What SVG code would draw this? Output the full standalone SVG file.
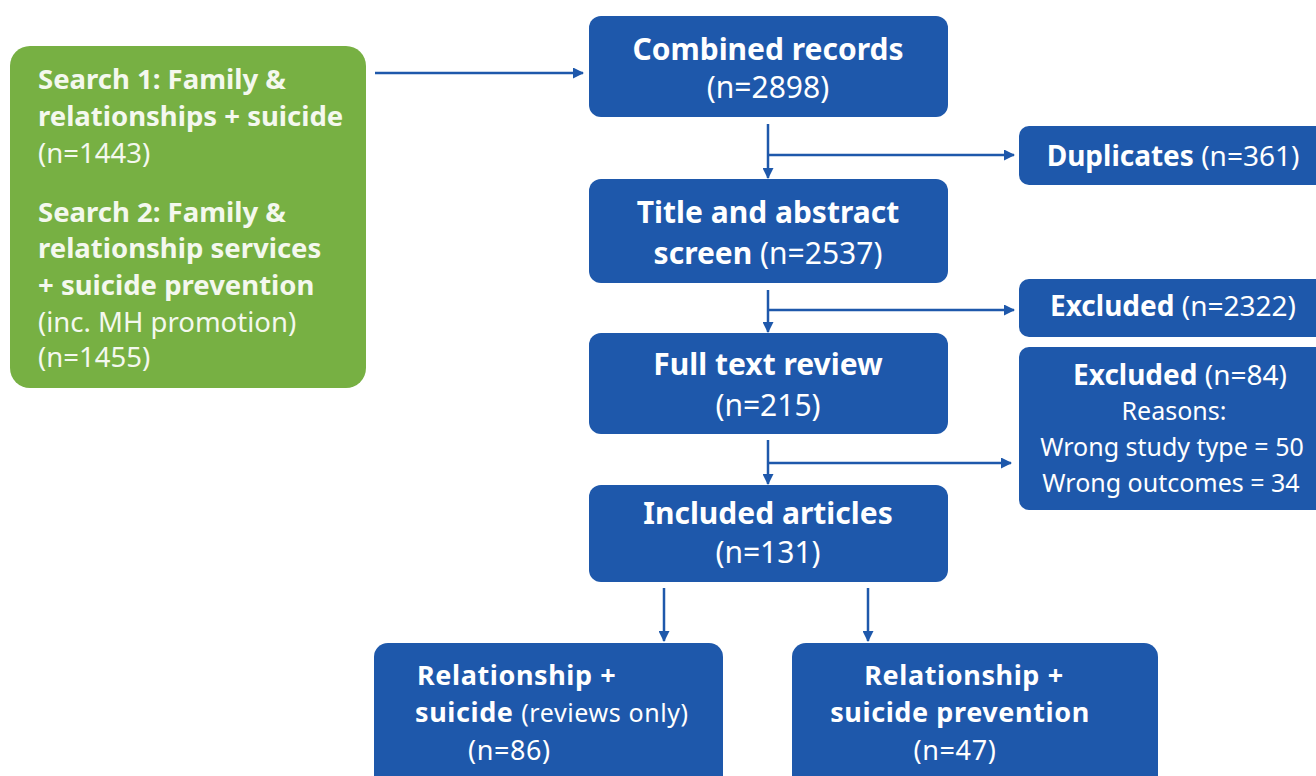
<svg xmlns="http://www.w3.org/2000/svg" width="1316" height="776" viewBox="0 0 1316 776">
<defs>
<style>
.box{fill:#1e58ab;}
.g{fill:#77b043;}
text{font-family:"Noto Sans","Open Sans",sans-serif;fill:#ffffff;}
.t{font-size:30px;text-anchor:middle;}
.b{font-weight:bold;}
.gt{font-size:27.5px;fill:#f4f8ee;}
.s{font-size:28px;text-anchor:middle;}
.r{font-size:25px;text-anchor:middle;}
.bt{font-size:27px;letter-spacing:0.6px;}
.c{stroke:#1e58ab;stroke-width:2.5;fill:none;}
</style>
<marker id="ah" markerWidth="11" markerHeight="11" refX="10" refY="5.5" orient="auto" markerUnits="userSpaceOnUse">
<path d="M0,0 L11,5.5 L0,11 Z" fill="#1e58ab"/>
</marker>
</defs>
<rect width="1316" height="776" fill="#ffffff"/>

<g id="connectors">
<line class="c" x1="375" y1="73" x2="583" y2="73" marker-end="url(#ah)"/>
<line class="c" x1="768" y1="124" x2="768" y2="178" marker-end="url(#ah)"/>
<line class="c" x1="768" y1="155" x2="1014" y2="155" marker-end="url(#ah)"/>
<line class="c" x1="768" y1="290" x2="768" y2="332" marker-end="url(#ah)"/>
<line class="c" x1="768" y1="310" x2="1014" y2="310" marker-end="url(#ah)"/>
<line class="c" x1="768" y1="440" x2="768" y2="484" marker-end="url(#ah)"/>
<line class="c" x1="768" y1="463" x2="1011" y2="463" marker-end="url(#ah)"/>
<line class="c" x1="664" y1="588" x2="664" y2="641" marker-end="url(#ah)"/>
<line class="c" x1="868" y1="588" x2="868" y2="641" marker-end="url(#ah)"/>
</g>

<g id="search">
<rect class="g" x="10" y="46" width="356" height="342" rx="20"/>
<text class="gt b" x="38" y="89">Search 1: Family &amp;</text>
<text class="gt b" x="38" y="126">relationships + suicide</text>
<text class="gt" x="38" y="163">(n=1443)</text>
<text class="gt b" x="38" y="222">Search 2: Family &amp;</text>
<text class="gt b" x="38" y="258">relationship services</text>
<text class="gt b" x="38" y="295">+ suicide prevention</text>
<text class="gt" x="38" y="332">(inc. MH promotion)</text>
<text class="gt" x="38" y="367">(n=1455)</text>
</g>

<g id="combined">
<rect class="box" x="589" y="16" width="359" height="101" rx="12"/>
<text class="t b" x="768" y="60">Combined records</text>
<text class="t" x="768" y="98">(n=2898)</text>
</g>

<g id="duplicates">
<rect class="box" x="1019" y="126" width="310" height="59" rx="10"/>
<text class="s" x="1173" y="166"><tspan class="b">Duplicates</tspan> (n=361)</text>
</g>

<g id="title-abstract">
<rect class="box" x="589" y="179" width="359" height="104" rx="12"/>
<text class="t b" x="768" y="223">Title and abstract</text>
<text class="t" x="768" y="264"><tspan class="b">screen</tspan> (n=2537)</text>
</g>

<g id="excluded1">
<rect class="box" x="1019" y="279" width="310" height="58" rx="10"/>
<text class="s" x="1173" y="316"><tspan class="b">Excluded</tspan> (n=2322)</text>
</g>

<g id="full-text">
<rect class="box" x="589" y="333" width="359" height="101" rx="12"/>
<text class="t b" x="768" y="375">Full text review</text>
<text class="t" x="768" y="416">(n=215)</text>
</g>

<g id="excluded2">
<rect class="box" x="1019" y="347" width="310" height="163" rx="10"/>
<text class="s" x="1180" y="385"><tspan class="b">Excluded</tspan> (n=84)</text>
<text class="r" x="1174" y="420">Reasons:</text>
<text class="r" x="1172" y="456">Wrong study type = 50</text>
<text class="r" x="1171" y="492">Wrong outcomes = 34</text>
</g>

<g id="included">
<rect class="box" x="589" y="485" width="359" height="97" rx="12"/>
<text class="t b" x="768" y="524">Included articles</text>
<text class="t" x="768" y="563">(n=131)</text>
</g>

<g id="rel-suicide">
<rect class="box" x="374" y="643" width="349" height="150" rx="14"/>
<text class="bt b" x="417" y="685">Relationship +</text>
<text class="bt" x="415" y="722"><tspan class="b">suicide</tspan> <tspan font-size="25">(reviews only)</tspan></text>
<text class="bt" x="468" y="760">(n=86)</text>
</g>

<g id="rel-prevention">
<rect class="box" x="792" y="643" width="366" height="150" rx="14"/>
<text class="bt b" x="964" y="685" text-anchor="middle">Relationship +</text>
<text class="bt b" x="960" y="722" text-anchor="middle">suicide prevention</text>
<text class="bt" x="955" y="760" text-anchor="middle">(n=47)</text>
</g>
</svg>
